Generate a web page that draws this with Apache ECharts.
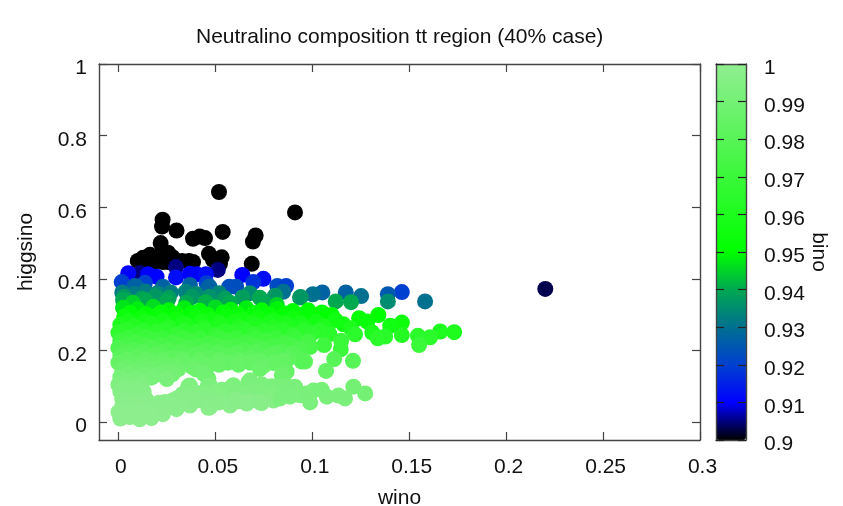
<!DOCTYPE html>
<html><head><meta charset="utf-8">
<style>html,body{margin:0;padding:0;background:#fff}#c{width:843px;height:506px}</style>
<script src="https://cdn.jsdelivr.net/npm/echarts@6/dist/echarts.min.js"></script>
</head><body><div id="c"></div>
<script>
// [wino, higgsino, bino]
const blackPoints = [
[.0519,.6425,.9],[.0911,.5855,.9],[.0228,.565,.9],[.0225,.546,.9],[.030,.535,.9],[.0538,.531,.9],
[.0218,.50,.9],[.0385,.512,.9],[.042,.518,.9],[.0447,.514,.9],[.0708,.521,.9],[.0694,.504,.9],
[.0467,.47,.9],[.0533,.46,.9],[.0488,.453,.9],[.0524,.442,.9],[.0688,.442,.9],
[.010,.45,.9],[.0128,.459,.9],[.0163,.467,.9],[.0205,.464,.9],[.0256,.473,.9],[.028,.46,.9],
[.0328,.45,.9],[.0365,.45,.9],[.0385,.447,.9],[.0128,.445,.9],[.0178,.445,.9],[.023,.447,.9],[.029,.447,.9],[.0256,.447,.9]
];
const navyPoints = [
[.0297,.433,.905],[.0513,.425,.905],[.011,.416,.905],[.2202,.372,.903]
];
const bluePoints = [
[.0153,.413,.91],[.0197,.406,.91],[.0297,.404,.912],[.0369,.414,.91],[.0404,.413,.91],[.0452,.413,.912],
[.0051,.416,.91],[.0639,.411,.91],[.0748,.40,.912],[.0696,.391,.918],[.0017,.391,.92],[.0137,.389,.92],
[.0455,.388,.92],[.0572,.378,.923],[.0607,.378,.923],[.082,.38,.922],[.0865,.38,.92],[.1462,.363,.92]
];
const tealPoints = [
[.0085,.38,.927],[.0094,.378,.927],[.023,.378,.927],[.0369,.383,.927],[.0462,.375,.927],[.047,.378,.927],
[.1052,.362,.927],[.1173,.362,.927],[.139,.357,.925],[.1003,.357,.93],[.1252,.352,.93],[.1582,.337,.93],[.085,.364,.93],
[.002,.362,.932],[.008,.358,.932],[.014,.365,.932],[.02,.36,.933],[.027,.362,.932],[.0348,.364,.933],[.04,.358,.934],[.052,.36,.934],[.0679,.36,.935],
[.139,.337,.935],[.0808,.353,.937],[.094,.349,.937],[.0937,.348,.937],[.073,.347,.94],[.1121,.337,.94],[.12,.335,.94],
[.003,.35,.937],[.012,.345,.938],[.019,.352,.937],[.026,.347,.938],[.038,.35,.937],[.047,.35,.936],[.055,.345,.938],[.064,.348,.938],
[.0024,.341,.94],[.0137,.341,.94],[.025,.337,.94],[.035,.333,.94],[.0576,.333,.94],[.0746,.337,.94],[.0075,.333,.945],[.045,.335,.941],[.0817,.327,.945]
];
const greenPoints = [
[.0024,.319,.947],[.01,.315,.948],[.018,.322,.946],[.026,.312,.949],[.034,.318,.948],[.042,.311,.95],[.05,.32,.946],[.058,.314,.949],[.066,.318,.948],[.074,.312,.95],[.082,.316,.949],[.09,.31,.95],[.098,.312,.95],[.105,.306,.95],
[.006,.305,.951],[.014,.302,.951],[.022,.306,.951],[.03,.302,.952],[.038,.305,.951],[.046,.3,.952],[.054,.306,.951],[.062,.301,.952],[.07,.305,.951],[.078,.3,.952],[.086,.303,.951],[.094,.3,.952],
[.1341,.299,.95],[.1242,.29,.952],[.11,.299,.951],[.10,.295,.952],[.1284,.281,.953],[.1462,.278,.955],[.1402,.269,.956],[.1161,.273,.956],
[.003,.295,.954],[.012,.29,.955],[.02,.298,.953],[.03,.288,.955],[.04,.295,.954],[.048,.287,.956],[.056,.296,.953],[.064,.288,.956],[.072,.293,.955],[.08,.285,.957],[.09,.29,.955],[.102,.28,.957],[.112,.285,.956],
[.005,.282,.958],[.014,.279,.958],[.023,.283,.958],[.033,.278,.958],[.043,.281,.958],[.052,.278,.959],[.06,.281,.958],[.069,.277,.959],[.078,.278,.959],[.086,.277,.959],[.094,.276,.959],[.12,.262,.96],
[.001,.272,.96],[.008,.268,.962],[.017,.275,.96],[.026,.266,.962],[.035,.272,.96],[.044,.265,.962],[.053,.274,.96],[.062,.266,.962],[.071,.272,.96],[.08,.264,.962],[.088,.27,.96],[.096,.262,.962],[.106,.268,.96],
[.1732,.251,.96],[.166,.253,.96],[.1462,.243,.962],[.1376,.239,.964],[.131,.25,.96],[.1088,.246,.964],[.1608,.237,.965],[.1545,.241,.965],[.1338,.234,.965],[.1221,.245,.965],
[.004,.258,.965],[.013,.256,.965],[.024,.258,.965],[.034,.255,.965],[.045,.257,.965],[.055,.254,.965],[.065,.258,.965],[.075,.255,.965],[.085,.257,.965],[.095,.255,.965],[.104,.255,.965],
[.0,.25,.966],[.01,.245,.968],[.02,.252,.966],[.03,.244,.968],[.04,.25,.966],[.05,.243,.968],[.06,.25,.966],[.07,.245,.968],[.08,.25,.966],[.09,.243,.968],[.1,.248,.967],
[.005,.236,.97],[.014,.238,.97],[.023,.235,.97],[.033,.237,.97],[.042,.235,.97],[.052,.236,.97],[.061,.234,.97],[.071,.236,.97],[.081,.235,.97],[.091,.235,.97]
];
const midPoints = [
[.001,.228,.972],[.009,.224,.973],[.018,.23,.972],[.028,.222,.974],[.037,.228,.972],[.047,.22,.974],[.056,.228,.972],[.066,.222,.974],[.076,.228,.972],[.086,.221,.974],[.0979,.225,.973],[.1149,.227,.97],[.1551,.215,.97],[.1061,.215,.972],
[.004,.215,.975],[.013,.216,.975],[.022,.214,.975],[.032,.215,.975],[.041,.213,.975],[.051,.214,.975],[.06,.213,.975],[.07,.214,.975],[.08,.212,.975],[.09,.213,.975],[.099,.21,.975],
[.0,.207,.977],[.008,.203,.978],[.017,.209,.977],[.026,.201,.978],[.036,.208,.977],[.045,.2,.978],[.055,.207,.977],[.065,.2,.978],[.074,.206,.977],[.084,.198,.978],[.094,.205,.977],[.1147,.203,.97],
[.004,.195,.98],[.013,.196,.98],[.022,.194,.98],[.032,.195,.98],[.042,.193,.98],[.051,.194,.98],[.061,.193,.98],[.071,.194,.98],[.081,.193,.98],[.09,.192,.98],
[.001,.186,.981],[.01,.182,.982],[.019,.188,.981],[.028,.18,.982],[.038,.186,.981],[.047,.18,.982],[.057,.186,.981],[.068,.18,.982],[.078,.186,.981],[.088,.178,.982],
[.005,.175,.984],[.014,.176,.984],[.023,.174,.984],[.033,.175,.984],[.042,.173,.984],[.052,.174,.984],[.062,.173,.984],[.073,.172,.984],[.085,.172,.984],
[.0,.166,.985],[.008,.162,.985],[.017,.168,.985],[.025,.16,.986],[.034,.166,.985],[.0462,.157,.986],[.0565,.166,.985],[.0679,.166,.985],[.08,.165,.984],[.0946,.169,.983],[.0963,.169,.983],[.0954,.171,.98],[.1113,.176,.98],[.121,.171,.98],
[.004,.154,.987],[.012,.155,.987],[.021,.153,.987],[.029,.155,.987],[.038,.154,.987],[.052,.16,.986],[.062,.16,.986],[.075,.158,.986],
[.002,.146,.988],[.009,.143,.988],[.016,.149,.988],[.024,.142,.989],[.031,.148,.988],[.073,.148,.987],[.0851,.141,.986],[.0868,.141,.985],[.1071,.143,.985],[.04,.147,.988],[.044,.135,.989],
[.005,.134,.99],[.013,.135,.99],[.02,.133,.99],[.028,.134,.99],
[.001,.126,.991],[.008,.122,.991],[.017,.124,.991],[.025,.12,.992],[.0464,.122,.989]
];
const lightPoints = [
[.004,.113,.993],[.011,.114,.993],[.0,.105,.994],[.006,.101,.994],[.012,.106,.994],[.003,.094,.995],[.009,.093,.995],[.001,.085,.996],[.007,.082,.996],[.013,.086,.996],[.004,.074,.996],[.011,.073,.996],[.002,.066,.997],[.008,.062,.997],[.014,.067,.997],
[.004,.054,.998],[.011,.052,.998],[.002,.045,.998],[.009,.041,.998],[.016,.053,.998],[.024,.056,.998],[.03,.052,.998],[.0369,.102,.994],[.036,.1,.994],[.033,.078,.996],[.04,.082,.996],[.03,.066,.997],[.037,.066,.997],[.028,.06,.997],[.046,.1,.994],[.046,.075,.996],[.021,.054,.998],
[.0472,.103,.993],[.0533,.09,.994],[.0593,.103,.993],[.0576,.095,.994],[.067,.111,.992],[.0679,.117,.992],[.0851,.12,.99],[.0843,.131,.988],[.0834,.099,.992],[.0911,.099,.992],[.074,.105,.992],[.079,.1,.992],
[.075,.095,.993],[.045,.08,.995],[.055,.072,.995],[.065,.08,.994],[.074,.076,.994],[.05,.085,.995],[.06,.085,.994],[.07,.09,.994],[.08,.082,.994],[.043,.06,.997],[.052,.055,.997],[.062,.058,.997],[.08,.06,.996],
[.1273,.08,.99],[.1212,.099,.99],[.1169,.066,.992],[.1135,.074,.992],[.1075,.071,.992],[.1049,.09,.991],[.1006,.088,.991],[.0989,.055,.993],[.0868,.099,.992],[.0885,.071,.993],[.0834,.066,.993],[.0937,.075,.993],[.097,.08,.992],
[.001,.01,.999],[.011,.008,.999],[.017,.011,.999],[.023,.022,.999],[.03,.036,.998],[.0369,.046,.998],[.0464,.04,.998],[.0576,.046,.998],[.0679,.059,.997],[.0739,.053,.997],[.0472,.041,.998],[.0662,.052,.998],[.073,.055,.997],[.005,.028,.999],[.012,.03,.999],[.02,.04,.998],[.028,.05,.998],[.04,.06,.997],[.05,.06,.997],[.06,.062,.997],[.0,.028,.999],[.006,.014,.999],[.016,.024,.999]
];
const points = [...blackPoints, ...navyPoints, ...bluePoints, ...tealPoints, ...greenPoints, ...midPoints, ...lightPoints];
const winoTicks = [0,0.05,0.1,0.15,0.2,0.25,0.3];
const higgsinoTicks = [0,0.2,0.4,0.6,0.8,1];
const binoTicks = [0.9,0.91,0.92,0.93,0.94,0.95,0.96,0.97,0.98,0.99,1];
const paletteColors = ['#000000','#0000ff','#0040d0','#007090','#00a850','#00ff00','#1dfc1d','#3af83a','#57f457','#74f174','#90ee90'];

const FONT='"Liberation Sans"', FS=21, LINE='#444', TXT='#111';
const lineS={show:true,onZero:false,lineStyle:{color:LINE,width:1.4}};
const tick=(vals)=>({show:true,inside:true,length:8,customValues:vals,lineStyle:{color:LINE,width:1.2}});
const chart=echarts.init(document.getElementById('c'),null,{renderer:'canvas'});
chart.setOption({
  animation:false,backgroundColor:'#fff',
  textStyle:{fontFamily:FONT},
  title:{text:'Neutralino composition tt region (40% case)',left:196,top:27,padding:0,
    textStyle:{fontFamily:FONT,fontSize:21,fontWeight:'normal',color:TXT}},
  grid:[{left:99,top:64,width:601,height:376,outerBoundsMode:'none'},{left:716,top:64,width:30,height:376,outerBoundsMode:'none'}],
  xAxis:[
    {gridIndex:0,type:'value',min:-0.01,max:0.3,position:'bottom',axisLine:lineS,axisTick:tick(winoTicks),splitLine:{show:false},
     axisLabel:{customValues:winoTicks,fontFamily:FONT,fontSize:FS,color:TXT,margin:17,padding:[0,0,0,5],formatter:v=>String(v),hideOverlap:false},
     name:'wino',nameLocation:'middle',nameGap:48,nameTextStyle:{fontFamily:FONT,fontSize:FS,color:TXT}},
    {gridIndex:0,type:'value',min:-0.01,max:0.3,position:'top',axisLine:lineS,axisTick:tick(winoTicks),axisLabel:{show:false},splitLine:{show:false}},
    {gridIndex:1,type:'value',min:0,max:1,position:'bottom',show:true,axisLine:{show:true,onZero:false,lineStyle:{color:LINE,width:1.4}},axisTick:{show:false},axisLabel:{show:false},splitLine:{show:false},z:10},
    {gridIndex:1,type:'value',min:0,max:1,position:'top',show:true,axisLine:{show:true,onZero:false,lineStyle:{color:LINE,width:1.4}},axisTick:{show:false},axisLabel:{show:false},splitLine:{show:false},z:10}
  ],
  yAxis:[
    {gridIndex:0,type:'value',min:-0.05,max:1,position:'left',axisLine:lineS,axisTick:tick(higgsinoTicks),splitLine:{show:false},
     axisLabel:{customValues:higgsinoTicks,fontFamily:FONT,fontSize:FS,color:TXT,margin:12,verticalAlign:'top',lineHeight:9,formatter:v=>String(v)},
     name:'higgsino',nameLocation:'middle',nameGap:62,nameTextStyle:{fontFamily:FONT,fontSize:FS,color:TXT}},
    {gridIndex:0,type:'value',min:-0.05,max:1,position:'right',axisLine:lineS,axisTick:tick(higgsinoTicks),axisLabel:{show:false},splitLine:{show:false}},
    {gridIndex:1,type:'value',min:0.9,max:1,position:'left',axisLine:{show:true,onZero:false,lineStyle:{color:LINE,width:1.4}},
     axisTick:{show:true,inside:true,length:8,customValues:binoTicks,lineStyle:{color:'#222',width:1.2}},axisLabel:{show:false},splitLine:{show:false},z:10},
    {gridIndex:1,type:'value',min:0.9,max:1,position:'right',axisLine:{show:true,onZero:false,lineStyle:{color:LINE,width:1.4}},
     axisTick:{show:true,inside:true,length:8,customValues:binoTicks,lineStyle:{color:'#222',width:1.2}},splitLine:{show:false},z:10,
     axisLabel:{customValues:binoTicks,fontFamily:FONT,fontSize:FS,color:TXT,margin:18,verticalAlign:'top',lineHeight:9,formatter:v=>String(v)},
     name:'bino',nameLocation:'middle',nameGap:61,nameRotate:-90,nameTextStyle:{fontFamily:FONT,fontSize:FS,color:TXT}}
  ],
  visualMap:{type:'continuous',seriesIndex:0,dimension:2,min:0.9,max:1,calculable:false,realtime:false,
    left:716,top:64,itemWidth:30,itemHeight:376,padding:0,text:null,showLabel:false,
    inRange:{color:paletteColors}},
  series:[{type:'scatter',xAxisIndex:0,yAxisIndex:0,data:points,symbol:'circle',symbolSize:16,silent:true,
    itemStyle:{opacity:1}}]
});
</script></body></html>
